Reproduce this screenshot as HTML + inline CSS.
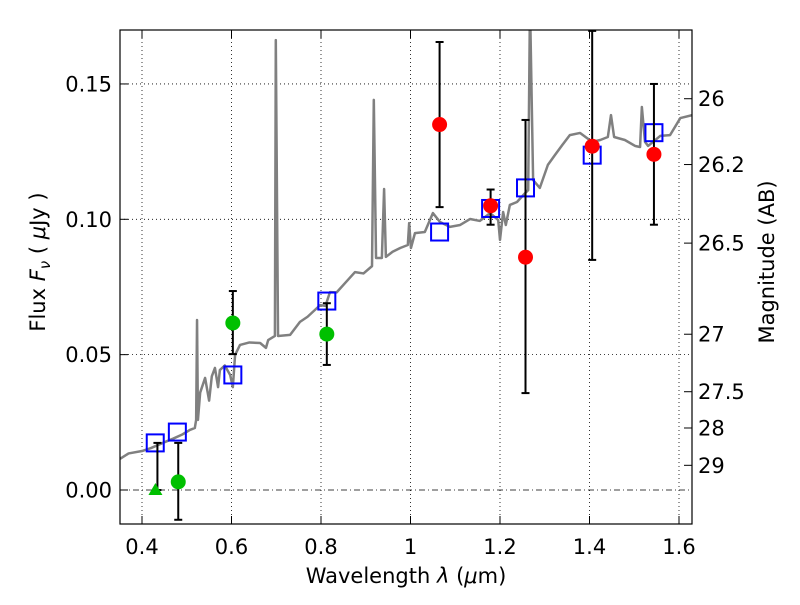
<!DOCTYPE html>
<html><head><meta charset="utf-8"><style>
body{margin:0;background:#fff;}
svg text{font-family:"DejaVu Sans","Liberation Sans",sans-serif;}
</style></head><body>
<svg id="chart" width="800" height="600" xmlns="http://www.w3.org/2000/svg">
<rect width="800" height="600" fill="#fff"/>
<defs><clipPath id="clip"><rect x="120" y="30" width="572" height="494"/></clipPath></defs>
<g id="grid"></g>
<g id="spec" clip-path="url(#clip)"></g>
<g id="marks" clip-path="url(#clip)"></g>
<rect x="120" y="30" width="572" height="494" fill="none" stroke="#000" stroke-width="1.2"/>
<g id="axes"></g>
<text x="406" y="583" font-size="21" text-anchor="middle">Wavelength  <tspan font-style="italic">λ</tspan> (<tspan font-style="italic">μ</tspan>m)</text>
<text transform="translate(45,262) rotate(-90)" font-size="21" text-anchor="middle">Flux  <tspan font-style="italic">F</tspan><tspan font-style="italic" font-size="15" dy="5">ν</tspan><tspan dy="-5">  (  </tspan><tspan font-style="italic">μ</tspan>Jy )</text>
<text transform="translate(774,262) rotate(-90)" font-size="21" text-anchor="middle">Magnitude (AB)</text>
</svg>
<script>
const xTicks=[0.4,0.6,0.8,1.0,1.2,1.4,1.6];
const xTickLabels=["0.4","0.6","0.8","1","1.2","1.4","1.6"];
const yTicks=[0,0.05,0.10,0.15];
const yTickLabels=["0.00","0.05","0.10","0.15"];
const magTicks=[26,26.2,26.5,27,27.5,28,29];
const magTickLabels=["26","26.2","26.5","27","27.5","28","29"];
const specWl=[0.351,0.37,0.4,0.42,0.451,0.47,0.49,0.507,0.518,0.521,0.523,0.525,0.53,0.541,0.55,0.556,0.563,0.57,0.574,0.585,0.597,0.603,0.608,0.619,0.64,0.664,0.677,0.682,0.697,0.699,0.704,0.731,0.753,0.77,0.798,0.81,0.820,0.835,0.854,0.876,0.895,0.914,0.918,0.923,0.936,0.941,0.945,0.96,0.977,0.994,0.997,1.001,1.010,1.032,1.050,1.066,1.088,1.111,1.133,1.155,1.178,1.196,1.200,1.207,1.213,1.222,1.238,1.254,1.263,1.267,1.274,1.289,1.307,1.323,1.339,1.356,1.379,1.406,1.424,1.441,1.448,1.455,1.479,1.502,1.513,1.517,1.524,1.531,1.558,1.580,1.603,1.630];
const specFlux=[.0115,.0135,.0144,.0155,.0177,.019,.0205,.0222,.0229,.0259,.0628,.0259,.036,.0414,.033,.042,.0451,.038,.0443,.046,.0425,.038,.0499,.0536,.0545,.0543,.0525,.0554,.0569,.1662,.0569,.0573,.0621,.0640,.0683,.068,.0731,.073,.0765,.0805,.080,.0827,.1441,.0857,.0857,.1112,.0861,.088,.0894,.0905,.0986,.0894,.0949,.0953,.1023,.0990,.0972,.0979,.1001,.0994,.1023,.0997,.0924,.1027,.0979,.1053,.1064,.1093,.1108,.18,.1145,.1116,.1201,.1238,.1274,.1311,.1319,.1286,.1293,.1304,.1385,.1304,.1293,.1271,.1267,.1415,.1286,.1271,.1308,.1311,.1374,.1385];
const modelWl=[0.4296,0.479,0.603,0.813,1.065,1.179,1.257,1.406,1.544];
const modelFlux=[0.0174,0.0214,0.0425,0.0698,0.0953,0.104,0.1116,0.1237,0.132];
const greenWl=[0.481,0.603,0.813];
const greenFlux=[0.003,0.0617,0.0576];
const greenLo=[-0.011,0.0502,0.0462];
const greenHi=[0.0174,0.0735,0.069];
const limWl=[0.43];
const limFlux=[0];
const limHi=[0.0174];
const redWl=[1.065,1.179,1.257,1.406,1.544];
const redFlux=[0.135,0.105,0.086,0.127,0.124];
const redLo=[0.1045,0.098,0.0358,0.085,0.098];
const redHi=[0.1655,0.111,0.1367,0.1696,0.150];

const X=v=>142+(v-0.4)*447.5;
const Y=v=>490-v*2707;
const M=m=>Y(Math.pow(10,-(m-23.9)/2.5));
const NS="http://www.w3.org/2000/svg";
function mk(parent,tag,attrs){const e=document.createElementNS(NS,tag);for(const k in attrs)e.setAttribute(k,attrs[k]);parent.appendChild(e);return e;}
const grid=document.getElementById('grid'),spec=document.getElementById('spec'),marks=document.getElementById('marks'),axes=document.getElementById('axes');

xTicks.forEach((t,i)=>{
  const x=X(t);
  const g=mk(grid,'line',{x1:x,x2:x,y1:30,y2:524,stroke:'#000','stroke-width':0.8,'stroke-dasharray':'1,3'});
  
  
  const a=mk(axes,'line',{x1:x,x2:x,y1:524,y2:516,stroke:'#000','stroke-width':1});
  
  
  const b=mk(axes,'line',{x1:x,x2:x,y1:30,y2:38,stroke:'#000','stroke-width':1});
  
  
  const l=mk(axes,'text',{x:x,y:554,'font-size':21,'text-anchor':'middle'});
  l.textContent=xTickLabels[i];
  
  
});
yTicks.forEach((t,i)=>{
  const y=Y(t);
  const g=mk(grid,'line',{x1:120,x2:692,y1:y,y2:y,stroke:'#000','stroke-width':0.8,'stroke-dasharray':t===0?'6,3,1,3':'1,3'});
  
  
  const a=mk(axes,'line',{x1:120,x2:128,y1:y,y2:y,stroke:'#000','stroke-width':1});
  
  
  const l=mk(axes,'text',{x:112,y:y+7.5,'font-size':21,'text-anchor':'end'});
  l.textContent=yTickLabels[i];
  
  
});
magTicks.forEach((m,i)=>{
  const y=M(m);
  const a=mk(axes,'line',{x1:684,x2:692,y1:y,y2:y,stroke:'#000','stroke-width':1});
  
  
  const l=mk(axes,'text',{x:698,y:y+7.5,'font-size':21,'text-anchor':'start'});
  l.textContent=magTickLabels[i];
  
  
});

const p=mk(spec,'polyline',{points:specWl.map((w,i)=>X(w)+','+Y(specFlux[i])).join(' '),fill:'none',stroke:'#808080','stroke-width':2.5,'stroke-linejoin':'round'});



function errbar(x,lo,hi){
  const e=mk(marks,'g',{stroke:'#000','stroke-width':2});
  
  
  mk(e,'line',{x1:x,x2:x,y1:Y(lo),y2:Y(hi)});
  mk(e,'line',{x1:x-4,x2:x+4,y1:Y(lo),y2:Y(lo)});
  mk(e,'line',{x1:x-4,x2:x+4,y1:Y(hi),y2:Y(hi)});
}
modelWl.forEach((w,i)=>{
  const r=mk(marks,'rect',{x:X(w)-8.5,y:Y(modelFlux[i])-8.5,width:17,height:17,fill:'none',stroke:'#0000ff','stroke-width':2});
  
  
});
limWl.forEach((w,i)=>{
  errbar(X(w)+2,limFlux[i],limHi[i]);
  const x=X(w),y=Y(limFlux[i]);
  const t=mk(marks,'polygon',{points:`${x-7},${y+5} ${x+7},${y+5} ${x},${y-7}`,fill:'#00c000'});
  
  
});
greenWl.forEach((w,i)=>{
  errbar(X(w),greenLo[i],greenHi[i]);
  const c=mk(marks,'circle',{cx:X(w),cy:Y(greenFlux[i]),r:7.5,fill:'#00c000'});
  
  
});
redWl.forEach((w,i)=>{
  errbar(X(w),redLo[i],redHi[i]);
  const c=mk(marks,'circle',{cx:X(w),cy:Y(redFlux[i]),r:7.5,fill:'#ff0000'});
  
  
});
</script>
</body></html>
